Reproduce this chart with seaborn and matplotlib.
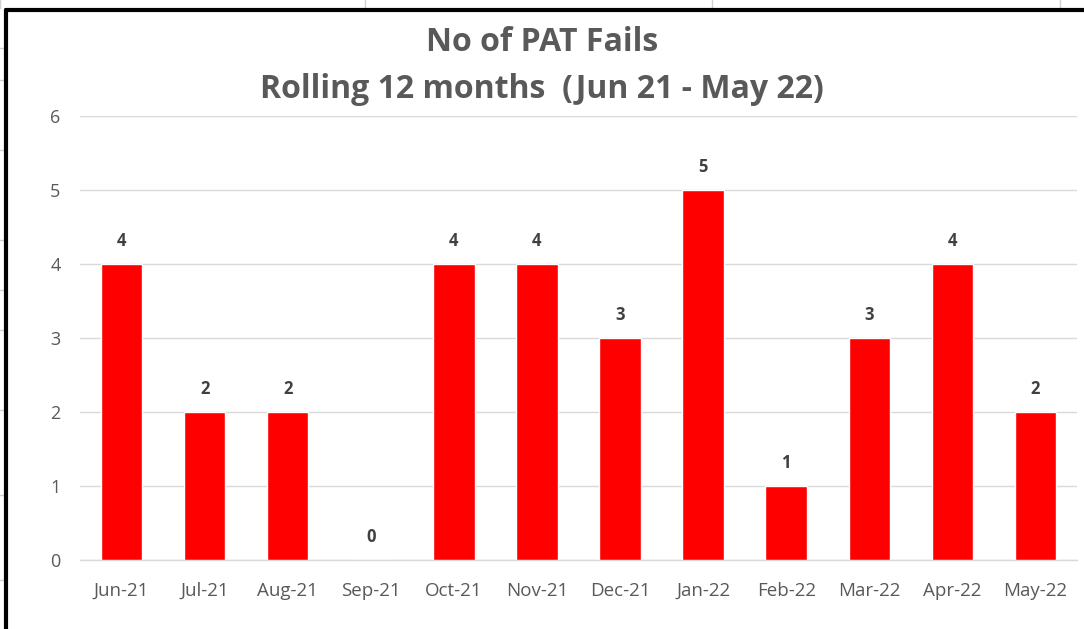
import numpy as np
import pandas as pd
import seaborn as sns
import matplotlib.pyplot as plt
from matplotlib.lines import Line2D

months = ['Jun-21', 'Jul-21', 'Aug-21', 'Sep-21', 'Oct-21', 'Nov-21',
          'Dec-21', 'Jan-22', 'Feb-22', 'Mar-22', 'Apr-22', 'May-22']
fails = [4, 2, 2, 0, 4, 4, 3, 5, 1, 3, 4, 2]
y_ticks = [0, 1, 2, 3, 4, 5, 6]

title = 'No of PAT Fails\nRolling 12 months  (Jun 21 - May 22)'

sns.set_theme(style='white')
plt.rcParams['font.family'] = ['Open Sans', 'DejaVu Sans']

df = pd.DataFrame({'month': months, 'fails': fails})

fig = plt.figure(figsize=(10.84, 6.29), dpi=100)
ax = fig.add_axes([80 / 1084, 1 - 560 / 629, 997 / 1084, 444 / 629])

sns.barplot(data=df, x='month', y='fails', color='#ff0000', saturation=1,
            width=0.5, ax=ax, zorder=3)

grey = '#595959'
ax.set_ylim(0, 6)
ax.set_xlim(-0.5, len(months) - 0.5)
ax.set_yticks(y_ticks)
ax.yaxis.grid(True, color='#d9d9d9', linewidth=1, zorder=0)
ax.set_xlabel('')
ax.set_ylabel('')
for s in ['top', 'right', 'left']:
    ax.spines[s].set_visible(False)
ax.spines['bottom'].set_color('#d9d9d9')
ax.spines['bottom'].set_linewidth(1)

ax.tick_params(axis='y', length=0, pad=14, labelsize=13, labelcolor=grey)
ax.tick_params(axis='x', which='major', length=0, pad=16, labelsize=13.5, labelcolor=grey)
# category boundary tick marks like Excel
ax.set_xticks(np.arange(-0.5, len(months), 1), minor=True)
ax.tick_params(axis='x', which='minor', length=5, width=1, color='#d9d9d9', direction='out')

for i, v in enumerate(fails):
    ax.annotate(str(v), (i, v), xytext=(0, 10), textcoords='offset points',
                ha='center', va='bottom', fontsize=12, fontweight='bold', color='#404040')

fig.text(542 / 1084, 1 - 66 / 629, title, ha='center', va='center',
         fontsize=23, fontweight='bold', color=grey, linespacing=1.58)

# spreadsheet frame around the chart
for x in [0, 365, 712, 1060]:
    fig.add_artist(Line2D([x / 1084, x / 1084], [1 - 8 / 629, 1], color='#d0d0d0', lw=1))
for y in [48, 80, 150, 240, 290, 330, 410, 495, 580]:
    fig.add_artist(Line2D([0, 4 / 1084], [1 - y / 629, 1 - y / 629], color='#d0d0d0', lw=1))
fig.add_artist(Line2D([6 / 1084, 1], [1 - 10 / 629, 1 - 10 / 629], color='black', lw=3))
fig.add_artist(Line2D([6 / 1084, 6 / 1084], [0, 1 - 10 / 629], color='black', lw=3))

fig.savefig('out.png', dpi=100, facecolor='white')
